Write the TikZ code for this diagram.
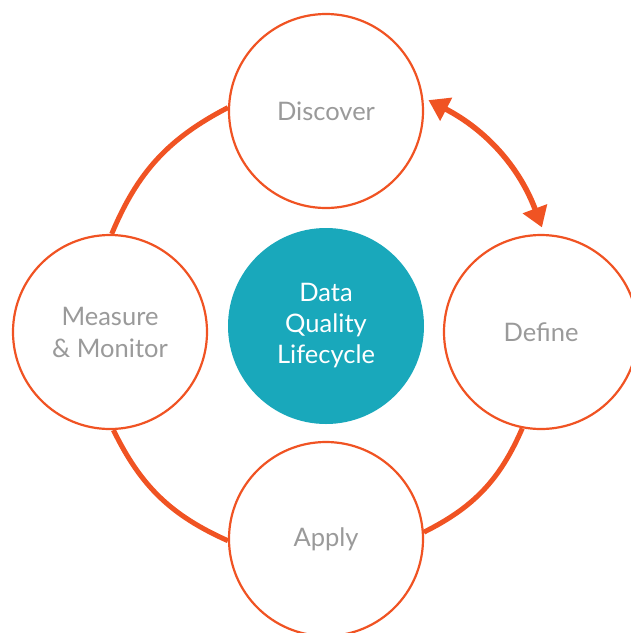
\documentclass[tikz,border=0pt]{standalone}
\usepackage{fontspec}
\setmainfont{Lato}
\usetikzlibrary{arrows.meta}
\definecolor{orng}{HTML}{F05323}
\definecolor{teal1}{HTML}{19A8BB}
\definecolor{txtgray}{HTML}{9A9A9A}
\begin{document}
\begin{tikzpicture}[x=1pt,y=-1pt,
  stage/.style={circle,draw=orng,line width=2.2pt,fill=white,minimum size=194pt,inner sep=0pt,
    text=txtgray,font=\fontsize{25.5}{32}\selectfont,align=center},
  hub/.style={circle,fill=teal1,minimum size=196pt,inner sep=0pt,text=white,
    font=\fontsize{25.5}{31}\selectfont,align=center},
  link/.style={draw=orng,line width=5pt},
  dbl/.style={draw=orng,line width=5.5pt,{Triangle[length=20pt,width=25pt]}-{Triangle[length=20pt,width=25pt]},shorten <=6pt,shorten >=7pt}]
\useasboundingbox (0,0) rectangle (631,633);
\clip (0,0) rectangle (631,633);
\node[hub] (hubc) at (326,326) {Data\\Quality\\Lifecycle};
\node[stage] (disc) at (326,111) {Discover};
\node[stage] (def) at (541,332) {Define};
\node[stage] (apply) at (326,539) {Apply};
\node[stage] (meas) at (110,332) {Measure\\\& Monitor};
\draw[link] (disc.178) to[bend right=20] (meas.89);
\draw[link] (meas.272) to[bend right=20] (apply.181);
\draw[link] (apply.4) to[bend right=20] (def.259);
\draw[dbl] (disc.8) to[bend left=21] (def.88);
\end{tikzpicture}
\end{document}
